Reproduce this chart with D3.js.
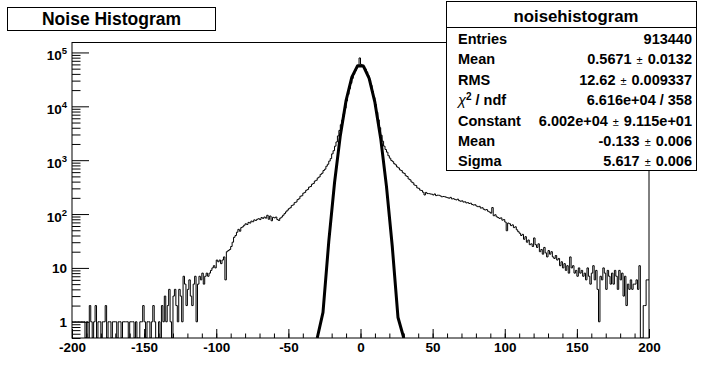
<!DOCTYPE html>
<html>
<head>
<meta charset="utf-8">
<script src="https://cdnjs.cloudflare.com/ajax/libs/d3/7.8.5/d3.min.js"></script>
<style>
  body { margin: 0; background: #fff; }
  text { font-family: "Liberation Sans", Arial, Helvetica, sans-serif; font-weight: bold; fill: #000; }
</style>
</head>
<body>
<div class="chart"></div>
<script>
// histogram bins: width 1, from -200 to 200
var binStart = -200;
var binWidth = 1;

// bins -200 .. -101
var countsA = [
  1, 1, 1, 1, 1, 1, 1, 1, 1, 0,
  1, 0, 2, 1, 0, 1, 2, 0, 1, 1,
  0, 1, 1, 2, 0, 1, 1, 0, 1, 1,
  1, 0, 1, 1, 0, 1, 1, 1, 1, 0,
  1, 1, 1, 0, 1, 0, 0, 1, 1, 2,
  1, 0, 1, 1, 0, 1, 2, 1, 0, 0,
  1, 0, 2, 1, 3, 1, 2, 4, 1, 0,
  3, 4, 2, 1, 4, 3, 1, 7, 5, 2,
  4, 6, 3, 2, 5, 7, 1, 5, 7, 6,
  8, 5, 7, 8, 7, 8, 9, 10, 11, 10
];
// bins -100 .. -1
var countsB = [
  14, 13, 14, 12, 14, 16, 6, 20, 21, 22,
  25, 30, 37, 40, 46, 52, 48, 56, 58, 62,
  66, 64, 70, 68, 74, 72, 78, 76, 80, 82,
  79, 86, 83, 88, 84, 95, 80, 92, 75, 87,
  85, 88, 79, 76, 84, 88, 95, 102, 110, 118,
  126, 131, 144, 148, 163, 167, 185, 192, 214, 219,
  244, 252, 276, 286, 316, 324, 358, 370, 410, 424,
  468, 488, 545, 572, 642, 680, 772, 840, 962, 1070,
  1310, 1500, 1820, 2180, 2820, 3560, 4540, 5550, 7250, 9250,
  12600, 16600, 21200, 26800, 33000, 39500, 45800, 51500, 56200, 79000
];
// bins 0 .. 99
var countsC = [
  60000, 58000, 54500, 49500, 43500, 37000, 30500, 24500, 19000, 14500,
  10800, 7800, 5600, 4000, 2900, 2250, 1820, 1580, 1410, 1210,
  1090, 990, 940, 860, 820, 750, 720, 660, 640, 585,
  568, 515, 498, 448, 432, 394, 380, 346, 338, 306,
  300, 278, 274, 254, 226, 252, 240, 240, 236, 234,
  226, 236, 220, 224, 223, 217, 209, 212, 210, 205,
  201, 197, 204, 191, 193, 187, 183, 189, 177, 173,
  176, 167, 169, 161, 163, 157, 159, 150, 147, 149,
  141, 137, 139, 129, 131, 123, 119, 121, 113, 109,
  104, 132, 93, 97, 89, 86, 83, 85, 77, 79
];
// bins 100 .. 199
var countsD = [
  71, 49, 68, 66, 61, 63, 56, 58, 51, 47,
  44, 40, 42, 34, 38, 30, 33, 27, 28, 25,
  36, 27, 24, 28, 20, 22, 18, 24, 19, 16,
  21, 18, 20, 16, 15, 17, 14, 15, 11, 13,
  10, 12, 9, 11, 8, 16, 10, 11, 8, 9,
  7, 10, 8, 9, 7, 8, 6, 10, 7, 5,
  8, 11, 6, 9, 4, 1, 7, 6, 10, 8,
  4, 9, 7, 5, 8, 5, 9, 7, 4, 9,
  6, 8, 3, 7, 2, 5, 4, 6, 4, 5,
  5, 6, 4, 11, 0, 0, 2, 2, 6, 6
];

// gaussian fit curve as drawn (sampled every 4 units over -30..30)
var fitX = [-30, -26, -22, -18, -14, -10, -6, -2, 2, 6, 10, 14, 18, 22, 26, 30];
var fitY = [0.0436, 1.49, 30.7, 381, 2851, 12826, 34780, 56796, 55843, 33071, 11794, 2533, 327, 25.5, 1.20, 0.0338];

// axis ticks
var xMajorTicks = [-200, -150, -100, -50, 0, 50, 100, 150, 200];
var xMinorTicks = d3.range(-200, 201, 10);
var yDecades = [0, 1, 2, 3, 4, 5];
var yRange = [0.5, 1.53e5];

// title and stats box text
var titleText = "Noise Histogram";
var statsTitle = "noisehistogram";
var statsNames = ["Entries", "Mean", "RMS", "chi2", "Constant", "Mean", "Sigma"];
var statsValues = ["913440", "0.5671", "12.62", "6.616e+04 / 358", "6.002e+04", "-0.133", "5.617"];
var statsErrors = [null, "0.0132", "0.009337", null, "9.115e+01", "0.006", "0.006"];

var svgWidth = 704;
var svgHeight = 371;

var frame = { left: 72, right: 649, top: 42.5, bottom: 338 };

var svg = d3.select(".chart")
  .append("svg")
  .attr("width", svgWidth)
  .attr("height", svgHeight);

svg.append("rect")
  .attr("width", svgWidth)
  .attr("height", svgHeight)
  .attr("fill", "#fff");

// scales
var xScale = d3.scaleLinear()
  .domain([-200, 200])
  .range([frame.left, frame.right]);

var yScale = d3.scaleLog()
  .domain(yRange)
  .range([frame.bottom, frame.top]);

svg.append("clipPath")
  .attr("id", "frameClip")
  .append("rect")
  .attr("x", frame.left)
  .attr("y", frame.top)
  .attr("width", frame.right - frame.left)
  .attr("height", frame.bottom - frame.top);

// x axis: minor then major ticks pointing into the frame
var xMinor = d3.axisBottom(xScale).tickValues(xMinorTicks).tickSize(-4.5).tickFormat("");
var xMajor = d3.axisBottom(xScale).tickValues(xMajorTicks).tickSize(-9).tickPadding(4).tickFormat(d => String(d));

svg.append("g")
  .attr("transform", `translate(0, ${frame.bottom})`)
  .call(xMinor);

var xAxisG = svg.append("g")
  .attr("transform", `translate(0, ${frame.bottom})`)
  .call(xMajor);

xAxisG.selectAll("text")
  .attr("font-size", "13.5px")
  .attr("font-family", null);

// y axis: decade ticks plus 2..9 minor ticks
var yMinorTicks = [];
for (var e = -1; e <= 5; e++) {
  for (var m = 2; m <= 9; m++) {
    var v = m * Math.pow(10, e);
    if (v >= yRange[0] && v <= yRange[1]) yMinorTicks.push(v);
  }
}
var yMajorTicks = yDecades.map(d => Math.pow(10, d));

svg.append("g")
  .attr("transform", `translate(${frame.left}, 0)`)
  .call(d3.axisLeft(yScale).tickValues(yMinorTicks).tickSize(-8.5).tickFormat(""));

svg.append("g")
  .attr("transform", `translate(${frame.left}, 0)`)
  .call(d3.axisLeft(yScale).tickValues(yMajorTicks).tickSize(-17).tickFormat(""));

svg.selectAll(".domain").remove();
svg.selectAll(".tick line").attr("stroke", "#000").attr("stroke-width", 1);

// y labels: 1, 10, 10^2 ...
var yLabels = svg.append("g");
yDecades.forEach(function(d) {
  var yy = yScale(Math.pow(10, d));
  var t = yLabels.append("text")
    .attr("x", 67)
    .attr("text-anchor", "end")
    .attr("font-size", "13.5px");
  if (d === 0) {
    t.attr("y", yy + 5).text("1");
  } else if (d === 1) {
    t.attr("y", yy + 5).text("10");
  } else {
    t.attr("y", yy + 8).text("10");
    t.append("tspan")
      .attr("dy", -6)
      .attr("font-size", "9.5px")
      .text(d);
  }
});

// histogram as a step line
var counts = countsA.concat(countsB, countsC, countsD);
var yClamp = c => yScale(Math.max(c, yRange[0]));

var histPath = d3.path();
counts.forEach(function(c, i) {
  var x0 = xScale(binStart + i * binWidth);
  var x1 = xScale(binStart + (i + 1) * binWidth);
  if (i === 0) histPath.moveTo(x0, yClamp(c));
  else histPath.lineTo(x0, yClamp(c));
  histPath.lineTo(x1, yClamp(c));
});

svg.append("path")
  .attr("d", histPath.toString())
  .attr("clip-path", "url(#frameClip)")
  .attr("fill", "none")
  .attr("stroke", "#000")
  .attr("stroke-width", 1);

// fit curve
var fitLine = d3.line()
  .x((d, i) => xScale(fitX[i]))
  .y(d => yClamp(d));

svg.append("path")
  .attr("d", fitLine(fitY))
  .attr("clip-path", "url(#frameClip)")
  .attr("fill", "none")
  .attr("stroke", "#000")
  .attr("stroke-width", 3)
  .attr("stroke-linejoin", "round");

// frame
svg.append("rect")
  .attr("x", frame.left)
  .attr("y", frame.top)
  .attr("width", frame.right - frame.left)
  .attr("height", frame.bottom - frame.top)
  .attr("fill", "none")
  .attr("stroke", "#000")
  .attr("stroke-width", 1);

// title box
svg.append("rect")
  .attr("x", 7.5)
  .attr("y", 7.5)
  .attr("width", 208)
  .attr("height", 23)
  .attr("fill", "#fff")
  .attr("stroke", "#000");

svg.append("text")
  .attr("x", 111.5)
  .attr("y", 24.5)
  .attr("text-anchor", "middle")
  .attr("font-size", "17.5px")
  .text(titleText);

// stats box
var stats = { left: 446.5, right: 696.5, top: 1.5, bottom: 170.5 };

svg.append("rect")
  .attr("x", stats.left)
  .attr("y", stats.top)
  .attr("width", stats.right - stats.left)
  .attr("height", stats.bottom - stats.top)
  .attr("fill", "#fff")
  .attr("stroke", "#000");

svg.append("line")
  .attr("x1", stats.left)
  .attr("x2", stats.right)
  .attr("y1", 27.5)
  .attr("y2", 27.5)
  .attr("stroke", "#000");

svg.append("text")
  .attr("x", 576)
  .attr("y", 22)
  .attr("text-anchor", "middle")
  .attr("font-size", "16.8px")
  .text(statsTitle);

statsNames.forEach(function(name, i) {
  var yy = 44 + i * 20.4;
  var label = svg.append("text")
    .attr("x", 458)
    .attr("y", yy)
    .attr("font-size", "14.5px");
  if (name === "chi2") {
    label.append("tspan").attr("font-weight", "normal").attr("font-style", "italic").text("\u03c7");
    label.append("tspan").attr("dy", -5).attr("font-size", "10px").text("2");
    label.append("tspan").attr("dy", 5).text(" / ndf");
  } else {
    label.text(name);
  }

  var value = svg.append("text")
    .attr("x", 692)
    .attr("y", yy)
    .attr("text-anchor", "end")
    .attr("font-size", "14.5px");
  value.append("tspan").text(statsValues[i]);
  if (statsErrors[i] !== null) {
    value.append("tspan").attr("dx", 5).attr("font-weight", "normal").attr("font-size", "11px").text("\u00b1");
    value.append("tspan").attr("dx", 5).text(statsErrors[i]);
  }
});
</script>
</body>
</html>
